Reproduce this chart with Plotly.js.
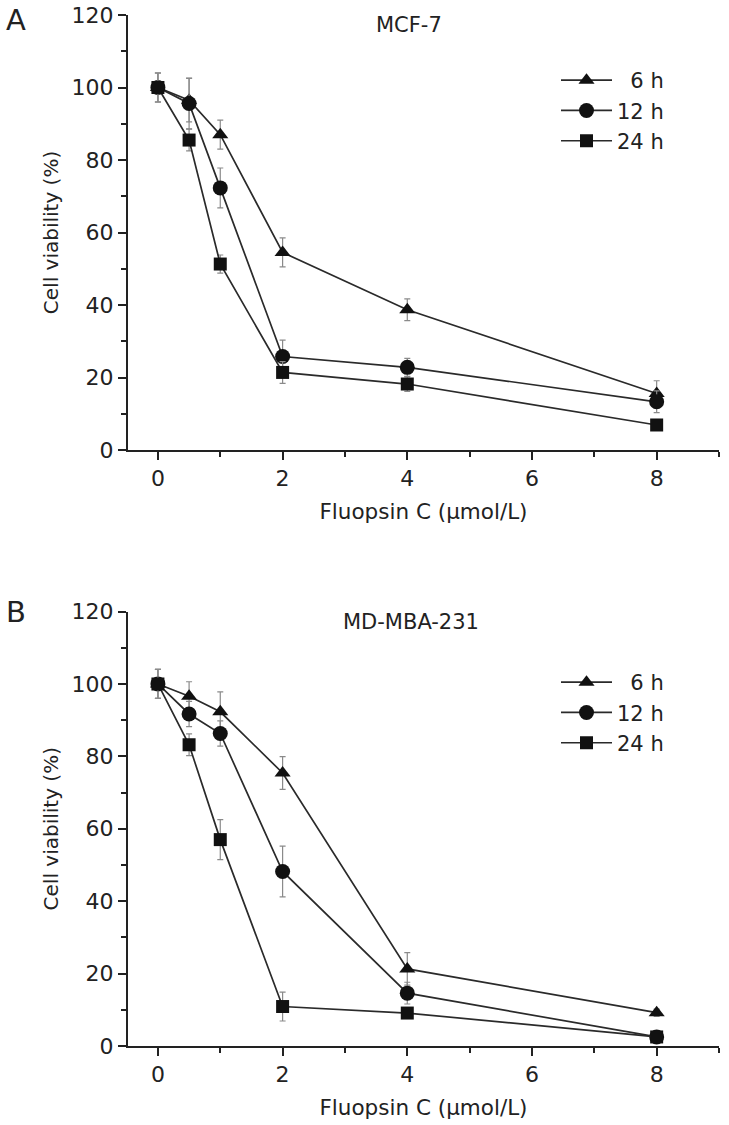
<!DOCTYPE html>
<html>
<head>
<meta charset="utf-8">
<script src="https://cdn.plot.ly/plotly-3.0.1.min.js"></script>
<style>html,body{margin:0;padding:0;background:#fff;}#chart{width:729px;height:1125px;}</style>
</head>
<body>
<div id="chart"></div>
<script>
// ---- data ----
const dose = [0, 0.5, 1, 2, 4, 8];
const seriesNames = ["\u20076 h", "12 h", "24 h"];

// Panel A: MCF-7
const mcf7_6h  = [100, 96.5, 87, 54.5, 38.7, 15.6];
const mcf7_12h = [100, 95.6, 72.3, 25.8, 22.8, 13.3];
const mcf7_24h = [100, 85.5, 51.3, 21.4, 18.2, 6.9];
const mcf7_6h_err  = [4, 6, 4, 4, 3, 3.5];
const mcf7_12h_err = [4, 7, 5.5, 4.5, 2.5, 3];
const mcf7_24h_err = [4, 3, 2.5, 3, 2, 1.5];

// Panel B: MD-MBA-231
const mda_6h  = [100, 96.6, 92.3, 75.4, 21.3, 9.2];
const mda_12h = [100, 91.7, 86.3, 48.2, 14.6, 2.5];
const mda_24h = [100, 83.2, 57, 10.9, 9.1, 2.5];
const mda_6h_err  = [4, 4, 5.5, 4.5, 4.5, 1];
const mda_12h_err = [4, 3.5, 3.5, 7, 3, 1];
const mda_24h_err = [4, 3, 5.5, 4, 1, 1];

const xTicks = [0, 2, 4, 6, 8];
const panelTitles = ["MCF-7", "MD-MBA-231"];
const panelLetters = ["A", "B"];
const xTitle = "Fluopsin C (\u03bcmol/L)";
const yTitle = "Cell viability (%)";

// ---- styles ----
const FONT = "DejaVu Sans, Liberation Sans, Arial, sans-serif";
const symbols = ["triangle-up", "circle", "square"];
const sizes = [14, 15, 13];

function mk(y, err, i, xa, ya, leg) {
  return {
    x: dose, y: y, name: seriesNames[i],
    type: "scatter", mode: "lines+markers",
    xaxis: xa, yaxis: ya, legend: leg, legendgroup: leg + i,
    line: {color: "#2a2a2a", width: 1.7},
    marker: {symbol: symbols[i], size: sizes[i], color: "#111"},
    error_y: {type: "data", array: err, visible: true, color: "#8a8a8a", thickness: 1.2, width: 3}
  };
}

const data = [
  mk(mcf7_6h, mcf7_6h_err, 0, "x", "y", "legend"),
  mk(mcf7_12h, mcf7_12h_err, 1, "x", "y", "legend"),
  mk(mcf7_24h, mcf7_24h_err, 2, "x", "y", "legend"),
  mk(mda_6h, mda_6h_err, 0, "x2", "y2", "legend2"),
  mk(mda_12h, mda_12h_err, 1, "x2", "y2", "legend2"),
  mk(mda_24h, mda_24h_err, 2, "x2", "y2", "legend2")
];

const W = 729, H = 1125;
const px = v => v / W;
const py = v => (H - v) / H;

function xax(anchor) {
  return {
    anchor: anchor, domain: [px(128), px(719)], range: [-0.48, 9.0],
    showline: true, linewidth: 2, linecolor: "#222", mirror: false,
    ticks: "outside", ticklen: 8, tickwidth: 2, tickcolor: "#222",
    tickvals: xTicks, tickfont: {family: FONT, size: 22, color: "#222"},
    minor: {tickvals: [1, 3, 5, 7, 9], ticks: "outside", ticklen: 5, tickwidth: 2, tickcolor: "#222", showgrid: false},
    showgrid: false, zeroline: false,
    title: {text: xTitle, font: {family: FONT, size: 21.5, color: "#222"}, standoff: 14}
  };
}
function yax(anchor, top, bottom) {
  return {
    anchor: anchor, domain: [py(bottom), py(top)], range: [0, 120],
    showline: true, linewidth: 2, linecolor: "#222", mirror: false,
    ticks: "outside", ticklen: 8, tickwidth: 2, tickcolor: "#222",
    dtick: 20, tick0: 0, tickfont: {family: FONT, size: 22, color: "#222"},
    minor: {dtick: 10, ticks: "outside", ticklen: 5, tickwidth: 2, tickcolor: "#222", showgrid: false},
    showgrid: false, zeroline: false,
    title: {text: yTitle, font: {family: FONT, size: 20, color: "#222"}, standoff: 8}
  };
}

function legendAt(top) {
  return {
    x: px(556), xanchor: "left", y: py(top), yanchor: "top",
    bgcolor: "rgba(0,0,0,0)", borderwidth: 0,
    font: {family: FONT, size: 21, color: "#222"},
    itemwidth: 51, tracegroupgap: 5, traceorder: "normal"
  };
}

const layout = {
  width: W, height: H,
  margin: {l: 0, r: 0, t: 0, b: 0},
  paper_bgcolor: "#fff", plot_bgcolor: "#fff",
  showlegend: true,
  xaxis: xax("y"), yaxis: yax("x", 15, 450),
  xaxis2: xax("y2"), yaxis2: yax("x2", 611.5, 1046),
  legend: legendAt(60),
  legend2: legendAt(662),
  annotations: [
    {text: panelLetters[0], xref: "paper", yref: "paper", x: px(16), y: py(20), xanchor: "center", yanchor: "middle", showarrow: false, font: {family: FONT, size: 29, color: "#222"}},
    {text: panelLetters[1], xref: "paper", yref: "paper", x: px(16), y: py(612), xanchor: "center", yanchor: "middle", showarrow: false, font: {family: FONT, size: 29, color: "#222"}},
    {text: panelTitles[0], xref: "paper", yref: "paper", x: px(409), y: py(25), xanchor: "center", yanchor: "middle", showarrow: false, font: {family: FONT, size: 21, color: "#222"}},
    {text: panelTitles[1], xref: "paper", yref: "paper", x: px(411), y: py(622), xanchor: "center", yanchor: "middle", showarrow: false, font: {family: FONT, size: 21, color: "#222"}}
  ]
};

Plotly.newPlot("chart", data, layout, {displayModeBar: false, staticPlot: true});
</script>
</body>
</html>
